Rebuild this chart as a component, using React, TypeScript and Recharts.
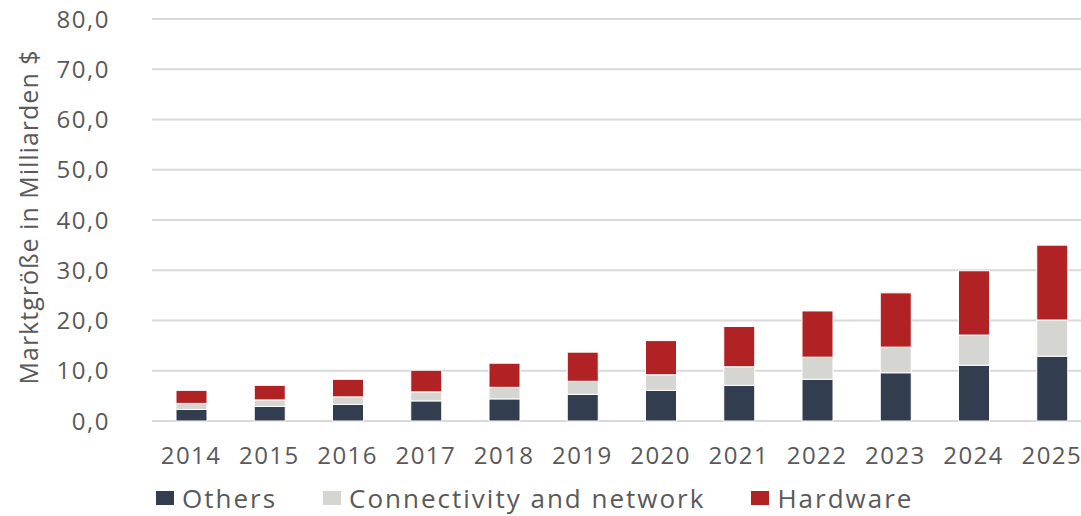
import React from "react";
import { BarChart, Bar, XAxis, YAxis, CartesianGrid } from "recharts";

const years = ["2014", "2015", "2016", "2017", "2018", "2019", "2020", "2021", "2022", "2023", "2024", "2025"];
const others = [2.3, 2.9, 3.3, 4.0, 4.4, 5.3, 6.1, 7.1, 8.3, 9.6, 11.1, 12.9];
const connectivity = [1.2, 1.3, 1.5, 1.8, 2.3, 2.6, 3.1, 3.7, 4.4, 5.1, 6.0, 7.2];
const hardware = [2.6, 2.9, 3.5, 4.3, 4.8, 5.8, 6.8, 8.0, 9.2, 10.8, 12.8, 14.9];
const yTicks = [0, 10, 20, 30, 40, 50, 60, 70, 80];

const SERIES = [
  { key: "others", name: "Others", color: "#333d50" },
  { key: "connectivity", name: "Connectivity and network", color: "#d5d5d1" },
  { key: "hardware", name: "Hardware", color: "#b02223" },
];

const data = years.map((year, i) => ({
  year,
  others: others[i],
  connectivity: connectivity[i],
  hardware: hardware[i],
}));

const FONT = "'Open Sans', sans-serif";
const TEXT = "#595959";

export default function App(): React.ReactElement {
  return (
    <div style={{ position: "absolute", left: 0, top: 0, width: 1081, height: 516, background: "#fff", fontFamily: FONT }}>
      <BarChart width={1081} height={516} data={data} margin={{ top: 19, right: -10, left: 0, bottom: 0 }}>
        <CartesianGrid vertical={false} stroke="#d9d9d9" strokeWidth={2} />
        <XAxis
          dataKey="year"
          axisLine={false}
          tickLine={false}
          height={95}
          tickMargin={20}
          tick={{ fontSize: 24, fill: TEXT, fontFamily: FONT, letterSpacing: 1.5 }}
        />
        <YAxis
          domain={[0, 80]}
          ticks={yTicks}
          width={152}
          axisLine={false}
          tickLine={false}
          tickSize={0}
          tickMargin={42}
          tickFormatter={(v: number) => v.toFixed(1).replace(".", ",")}
          tick={{ fontSize: 24, fill: TEXT, fontFamily: FONT, letterSpacing: 1.5 }}
          label={{
            content: () => (
              <text
                x={28}
                y={217}
                transform="rotate(-90 28 217)"
                textAnchor="middle"
                dominantBaseline="central"
                fontSize={25}
                letterSpacing={1}
                fill={TEXT}
                fontFamily={FONT}
              >
                Marktgröße in Milliarden $
              </text>
            ),
          }}
        />
        {SERIES.map((s) => (
          <Bar
            key={s.key}
            dataKey={s.key}
            name={s.name}
            stackId="a"
            fill={s.color}
            barSize={31}
            stroke="#ffffff"
            strokeWidth={1}
            isAnimationActive={false}
          />
        ))}
      </BarChart>
      <div
        style={{
          position: "absolute",
          top: 484,
          left: 156,
          display: "flex",
          alignItems: "center",
          fontSize: 26,
          lineHeight: "28px",
          letterSpacing: 2,
          color: TEXT,
          whiteSpace: "nowrap",
        }}
      >
        {SERIES.map((s, i) => (
          <div key={s.key} style={{ display: "flex", alignItems: "center", marginLeft: i === 0 ? 0 : 46 }}>
            <span style={{ width: 18, height: 14, background: s.color, display: "inline-block", marginRight: 8 }} />
            <span>{s.name}</span>
          </div>
        ))}
      </div>
    </div>
  );
}
